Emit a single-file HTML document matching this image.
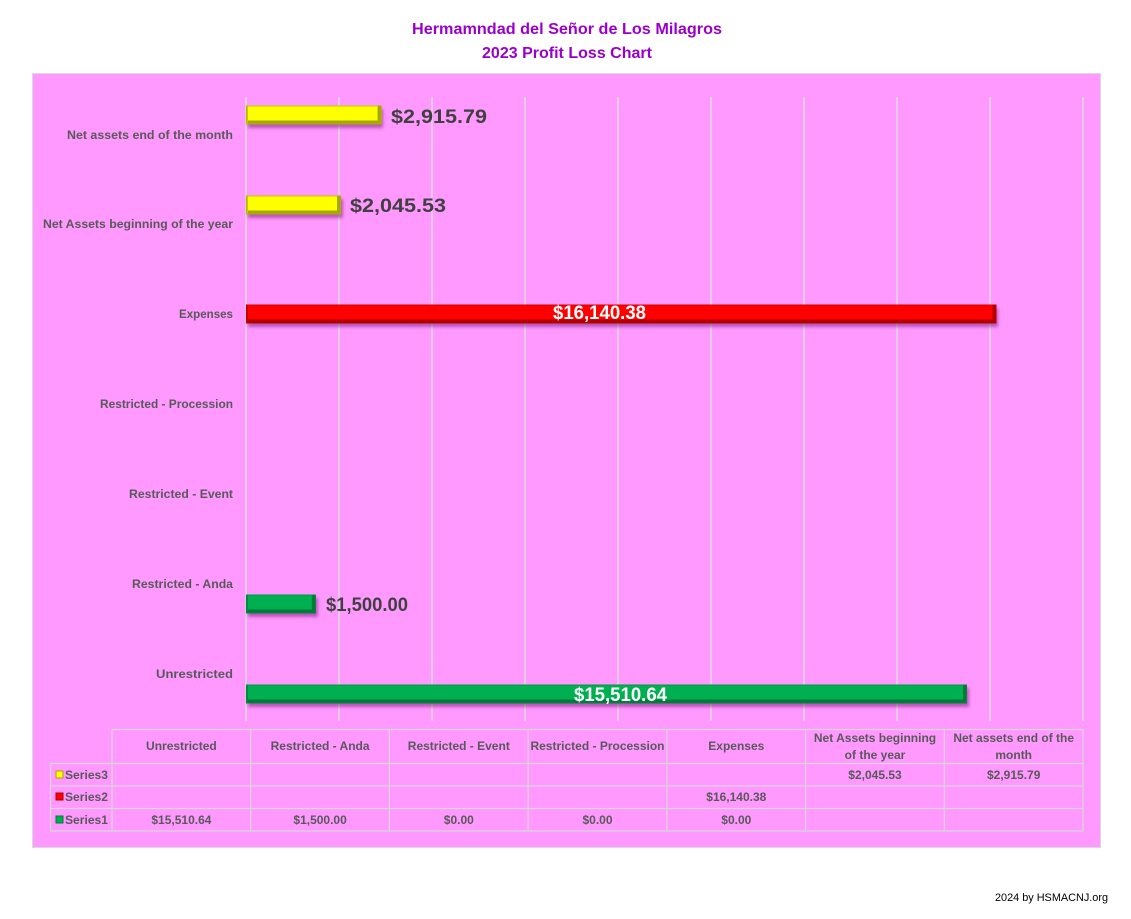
<!DOCTYPE html>
<html>
<head>
<meta charset="utf-8">
<style>
  html,body{margin:0;padding:0;background:#fff;}
  svg{display:block;}
  .cat{font-family:"Liberation Sans",sans-serif;font-weight:bold;font-size:12px;fill:#595959;}
  .tb{font-family:"Liberation Sans",sans-serif;font-weight:bold;font-size:12px;fill:#595959;}
  .dl{font-family:"Liberation Sans",sans-serif;font-weight:bold;font-size:19px;fill:#404040;}
  .dw{font-family:"Liberation Sans",sans-serif;font-weight:bold;font-size:19px;fill:#ffffff;}
  .ttl{font-family:"Liberation Sans",sans-serif;font-weight:bold;font-size:16px;fill:#9900CC;}
</style>
</head>
<body>
<svg width="1131" height="919" viewBox="0 0 1131 919" xmlns="http://www.w3.org/2000/svg">
  <defs>
    <filter id="sh" x="-5%" y="-50%" width="110%" height="200%">
      <feGaussianBlur stdDeviation="1.6"/>
    </filter>
  </defs>
  <rect x="0" y="0" width="1131" height="919" fill="#ffffff"/>

  <!-- Title -->
  <text class="ttl" x="412" y="34" textLength="310" lengthAdjust="spacingAndGlyphs">Hermamndad del Señor de Los Milagros</text>
  <text class="ttl" x="482" y="58" textLength="170" lengthAdjust="spacingAndGlyphs">2023 Profit Loss Chart</text>

  <!-- Chart area -->
  <rect x="32.5" y="73.5" width="1068" height="774" fill="#FF99FF" stroke="#D9D9D9" stroke-width="1"/>

  <!-- Gridlines -->
  <g stroke="#DCDCDC" stroke-width="1.5">
    <line x1="246" y1="97" x2="246" y2="721"/>
    <line x1="339" y1="97" x2="339" y2="721"/>
    <line x1="432" y1="97" x2="432" y2="721"/>
    <line x1="525" y1="97" x2="525" y2="721"/>
    <line x1="618" y1="97" x2="618" y2="721"/>
    <line x1="711" y1="97" x2="711" y2="721"/>
    <line x1="804" y1="97" x2="804" y2="721"/>
    <line x1="897" y1="97" x2="897" y2="721"/>
    <line x1="990" y1="97" x2="990" y2="721"/>
    <line x1="1083" y1="97" x2="1083" y2="721"/>
  </g>

  <!-- Category labels -->
  <g text-anchor="end">
    <text class="cat" x="233" y="139" textLength="166" lengthAdjust="spacingAndGlyphs">Net assets end of the month</text>
    <text class="cat" x="233" y="228" textLength="190" lengthAdjust="spacingAndGlyphs">Net Assets beginning of the year</text>
    <text class="cat" x="233" y="318" textLength="54" lengthAdjust="spacingAndGlyphs">Expenses</text>
    <text class="cat" x="233" y="408" textLength="133" lengthAdjust="spacingAndGlyphs">Restricted - Procession</text>
    <text class="cat" x="233" y="498" textLength="104" lengthAdjust="spacingAndGlyphs">Restricted - Event</text>
    <text class="cat" x="233" y="588" textLength="101" lengthAdjust="spacingAndGlyphs">Restricted - Anda</text>
    <text class="cat" x="233" y="678" textLength="77" lengthAdjust="spacingAndGlyphs">Unrestricted</text>
  </g>

  <!-- Bars: yellow (Series3) -->
  <g>
    <rect x="248" y="109" width="135" height="19" fill="#660066" opacity="0.45" filter="url(#sh)"/>
    <rect x="246" y="105.5" width="135.6" height="19" fill="#FFFF00"/>
    <rect x="246" y="120.5" width="135.6" height="4" fill="#A6A600"/>
    <rect x="377.6" y="105.5" width="4" height="19" fill="#A6A600"/>
    <rect x="246" y="105.5" width="2" height="19" fill="#C8C800"/>
    <rect x="246.5" y="106" width="134.6" height="18" fill="none" stroke="#B0B000" stroke-width="1" opacity="0.7"/>
  </g>
  <g>
    <rect x="248" y="199" width="95" height="19" fill="#660066" opacity="0.45" filter="url(#sh)"/>
    <rect x="246" y="195.5" width="95" height="19" fill="#FFFF00"/>
    <rect x="246" y="210.5" width="95" height="4" fill="#A6A600"/>
    <rect x="337" y="195.5" width="4" height="19" fill="#A6A600"/>
    <rect x="246" y="195.5" width="2" height="19" fill="#C8C800"/>
    <rect x="246.5" y="196" width="94" height="18" fill="none" stroke="#B0B000" stroke-width="1" opacity="0.7"/>
  </g>
  <!-- Red (Series2) -->
  <g>
    <rect x="248" y="308" width="750" height="19" fill="#660066" opacity="0.45" filter="url(#sh)"/>
    <rect x="246" y="304.5" width="750.5" height="19" fill="#FF0000"/>
    <rect x="246" y="319.5" width="750.5" height="4" fill="#B00000"/>
    <rect x="992.5" y="304.5" width="4" height="19" fill="#B00000"/>
    <rect x="246" y="304.5" width="2" height="19" fill="#C80000"/>
    <rect x="246.5" y="305" width="749.5" height="18" fill="none" stroke="#C00000" stroke-width="1" opacity="0.7"/>
  </g>
  <!-- Green (Series1) -->
  <g>
    <rect x="248" y="598" width="70" height="19" fill="#660066" opacity="0.45" filter="url(#sh)"/>
    <rect x="246" y="594.5" width="69.8" height="19" fill="#00B050"/>
    <rect x="246" y="609.5" width="69.8" height="4" fill="#007A37"/>
    <rect x="311.8" y="594.5" width="4" height="19" fill="#007A37"/>
    <rect x="246" y="594.5" width="2" height="19" fill="#008A40"/>
    <rect x="246.5" y="595" width="68.8" height="18" fill="none" stroke="#008A40" stroke-width="1" opacity="0.7"/>
  </g>
  <g>
    <rect x="248" y="688" width="721" height="19" fill="#660066" opacity="0.45" filter="url(#sh)"/>
    <rect x="246" y="684.5" width="721" height="19" fill="#00B050"/>
    <rect x="246" y="699.5" width="721" height="4" fill="#007A37"/>
    <rect x="963" y="684.5" width="4" height="19" fill="#007A37"/>
    <rect x="246" y="684.5" width="2" height="19" fill="#008A40"/>
    <rect x="246.5" y="685" width="720" height="18" fill="none" stroke="#008A40" stroke-width="1" opacity="0.7"/>
  </g>

  <!-- Data labels -->
  <text class="dl" x="391" y="123" textLength="96" lengthAdjust="spacingAndGlyphs">$2,915.79</text>
  <text class="dl" x="350" y="212" textLength="96" lengthAdjust="spacingAndGlyphs">$2,045.53</text>
  <text class="dw" x="553" y="319" textLength="93" lengthAdjust="spacingAndGlyphs">$16,140.38</text>
  <text class="dl" x="326" y="611" textLength="82" lengthAdjust="spacingAndGlyphs">$1,500.00</text>
  <text class="dw" x="574" y="701" textLength="93" lengthAdjust="spacingAndGlyphs">$15,510.64</text>

  <!-- Data table -->
  <g stroke="#D6D6D6" stroke-width="1.2" fill="none">
    <line x1="112" y1="729.5" x2="1083" y2="729.5"/>
    <line x1="50" y1="763.5" x2="1083" y2="763.5"/>
    <line x1="50" y1="786" x2="1083" y2="786"/>
    <line x1="50" y1="808.5" x2="1083" y2="808.5"/>
    <line x1="50" y1="831" x2="1083" y2="831"/>
    <line x1="50.5" y1="763.5" x2="50.5" y2="831"/>
    <line x1="112" y1="729.5" x2="112" y2="831"/>
    <line x1="250.7" y1="729.5" x2="250.7" y2="831"/>
    <line x1="389.4" y1="729.5" x2="389.4" y2="831"/>
    <line x1="528.1" y1="729.5" x2="528.1" y2="831"/>
    <line x1="666.9" y1="729.5" x2="666.9" y2="831"/>
    <line x1="805.6" y1="729.5" x2="805.6" y2="831"/>
    <line x1="944.3" y1="729.5" x2="944.3" y2="831"/>
    <line x1="1083" y1="729.5" x2="1083" y2="831"/>
  </g>

  <g text-anchor="middle">
    <text class="tb" x="181.4" y="750">Unrestricted</text>
    <text class="tb" x="320.1" y="750">Restricted - Anda</text>
    <text class="tb" x="458.8" y="750">Restricted - Event</text>
    <text class="tb" x="597.5" y="750">Restricted - Procession</text>
    <text class="tb" x="736.3" y="750">Expenses</text>
    <text class="tb" x="875" y="742">Net Assets beginning</text>
    <text class="tb" x="875" y="759">of the year</text>
    <text class="tb" x="1013.7" y="742">Net assets end of the</text>
    <text class="tb" x="1013.7" y="759">month</text>

    <text class="tb" x="875" y="779">$2,045.53</text>
    <text class="tb" x="1013.7" y="779">$2,915.79</text>
    <text class="tb" x="736.3" y="801">$16,140.38</text>
    <text class="tb" x="181.4" y="824">$15,510.64</text>
    <text class="tb" x="320.1" y="824">$1,500.00</text>
    <text class="tb" x="458.8" y="824">$0.00</text>
    <text class="tb" x="597.5" y="824">$0.00</text>
    <text class="tb" x="736.3" y="824">$0.00</text>
  </g>

  <!-- Legend keys -->
  <rect x="56" y="771" width="7" height="7" fill="#FFFF00" stroke="#A6A600" stroke-width="1"/>
  <rect x="56" y="793" width="7" height="7" fill="#FF0000" stroke="#B00000" stroke-width="1"/>
  <rect x="56" y="816" width="7" height="7" fill="#00B050" stroke="#007A37" stroke-width="1"/>
  <text class="tb" x="65" y="779" textLength="43" lengthAdjust="spacingAndGlyphs">Series3</text>
  <text class="tb" x="65" y="801" textLength="43" lengthAdjust="spacingAndGlyphs">Series2</text>
  <text class="tb" x="65" y="824" textLength="43" lengthAdjust="spacingAndGlyphs">Series1</text>

  <!-- Footer -->
  <text x="995" y="901" font-family="Liberation Sans, sans-serif" font-size="11" fill="#000000" textLength="113" lengthAdjust="spacingAndGlyphs">2024 by HSMACNJ.org</text>
</svg>
</body>
</html>
